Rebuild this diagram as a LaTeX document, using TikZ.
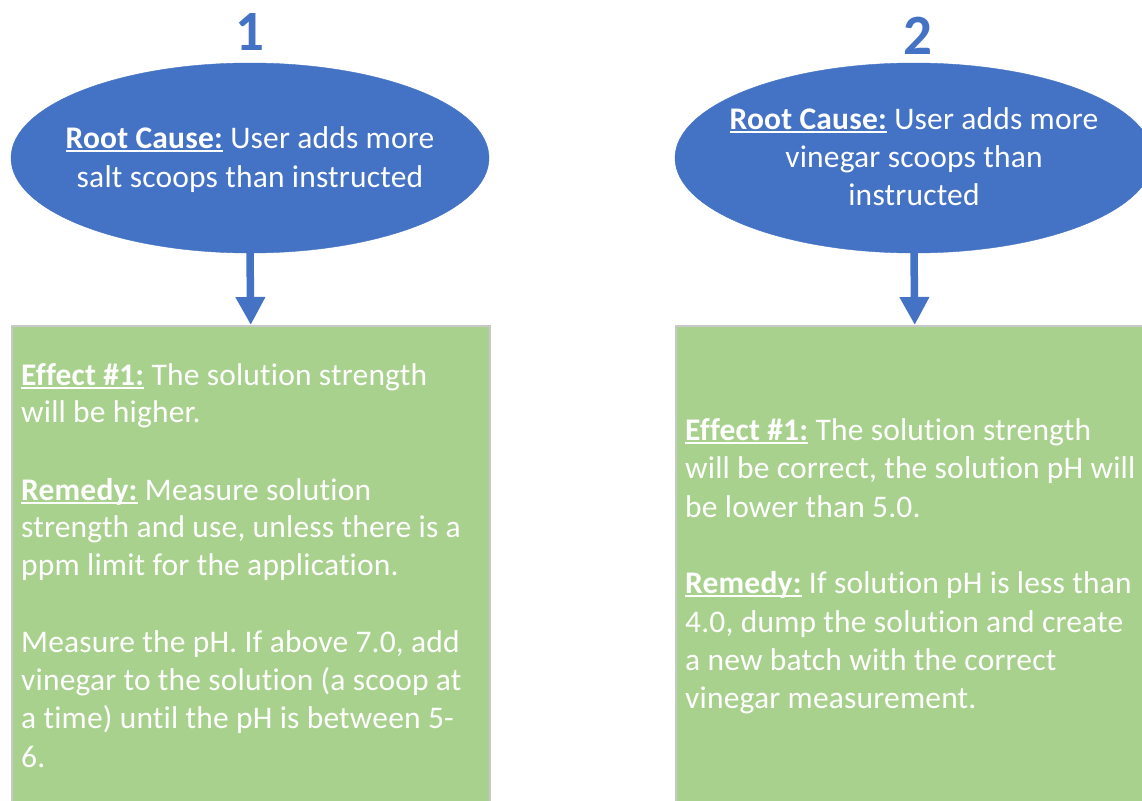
\documentclass[tikz,border=0pt]{standalone}
\usepackage{fontspec}
\setmainfont{Carlito}[Ligatures=NoCommon, LetterSpace=0.6]
\usetikzlibrary{shapes.geometric,arrows.meta}
\definecolor{cblue}{HTML}{4472C4}
\definecolor{cgreen}{HTML}{A9D18E}
\definecolor{cgray}{HTML}{C8C8C8}
\newlength\ulw
\newcommand\myul[1]{\settowidth\ulw{#1}\makebox[0pt][l]{\rule[-3.6pt]{\ulw}{1.6pt}}#1}
\frenchspacing
\tikzset{
  rootcause/.style={ellipse, fill=cblue, draw=cblue, minimum width=478pt, minimum height=190pt, inner sep=0pt},
  effectbox/.style={rectangle, fill=cgreen, draw=cgray, line width=1.5pt, anchor=north west, minimum width=478pt, minimum height=500pt, inner sep=0pt},
  numlabel/.style={anchor=base, text=cblue, font=\fontsize{57}{60}\selectfont\bfseries, inner sep=0pt},
  ltxt/.style={anchor=base west, text=white, font=\fontsize{31.5}{38}\selectfont\frenchspacing, inner sep=0pt},
  ctxt/.style={anchor=base, text=white, font=\fontsize{31.5}{38}\selectfont\frenchspacing, inner sep=0pt},
  flowarrow/.style={draw=cblue, line width=7.5pt, -{Triangle[width=28pt,length=28pt]}}
}
\begin{document}
\begin{tikzpicture}[x=1pt,y=-1pt]
\useasboundingbox (0,0) rectangle (1142,800);
\clip (0,0) rectangle (1142,800);
\fill[white] (0,0) rectangle (1142,800);

% column 1
\node[numlabel] (n1) at (250,51) {1};
\node[rootcause] (e1) at (250,158) {};
\node[ctxt] (e1a) at (250,148) {\myul{\textbf{Root Cause:}} User adds more};
\node[ctxt] (e1b) at (250,187) {salt scoops than instructed};
\node[effectbox] (b1) at (11,325) {};
\draw[flowarrow] (e1.south) -- (b1.north);
\node[ltxt] (t1a) at (21,385) {\myul{\textbf{Effect \#1:}} The solution strength};
\node[ltxt] (t1b) at (21,422) {will be higher.};
\node[ltxt] (t1c) at (21,500) {\myul{\textbf{Remedy:}} Measure solution};
\node[ltxt] (t1d) at (21,537) {strength and use, unless there is a};
\node[ltxt] (t1e) at (21,575) {ppm limit for the application.};
\node[ltxt] (t1f) at (21,652) {Measure the pH. If above 7.0, add};
\node[ltxt] (t1g) at (21,690) {vinegar to the solution (a scoop at};
\node[ltxt] (t1h) at (21,728) {a time) until the pH is between 5-};
\node[ltxt] (t1i) at (21,767) {6.};

% column 2
\node[numlabel] (n2) at (918,55) {2};
\node[rootcause] (e2) at (914,158) {};
\node[ctxt] (e2a) at (914,129) {\myul{\textbf{Root Cause:}} User adds more};
\node[ctxt] (e2b) at (914,167) {vinegar scoops than};
\node[ctxt] (e2c) at (914,205) {instructed};
\node[effectbox] (b2) at (675,325) {};
\draw[flowarrow] (e2.south) -- (b2.north);
\node[ltxt] (t2a) at (685,440) {\myul{\textbf{Effect \#1:}} The solution strength};
\node[ltxt] (t2b) at (685,478) {will be correct, the solution pH will};
\node[ltxt] (t2c) at (685,517) {be lower than 5.0.};
\node[ltxt] (t2d) at (685,593) {\myul{\textbf{Remedy:}} If solution pH is less than};
\node[ltxt] (t2e) at (685,632) {4.0, dump the solution and create};
\node[ltxt] (t2f) at (685,670) {a new batch with the correct};
\node[ltxt] (t2g) at (685,708) {vinegar measurement.};
\end{tikzpicture}
\end{document}
